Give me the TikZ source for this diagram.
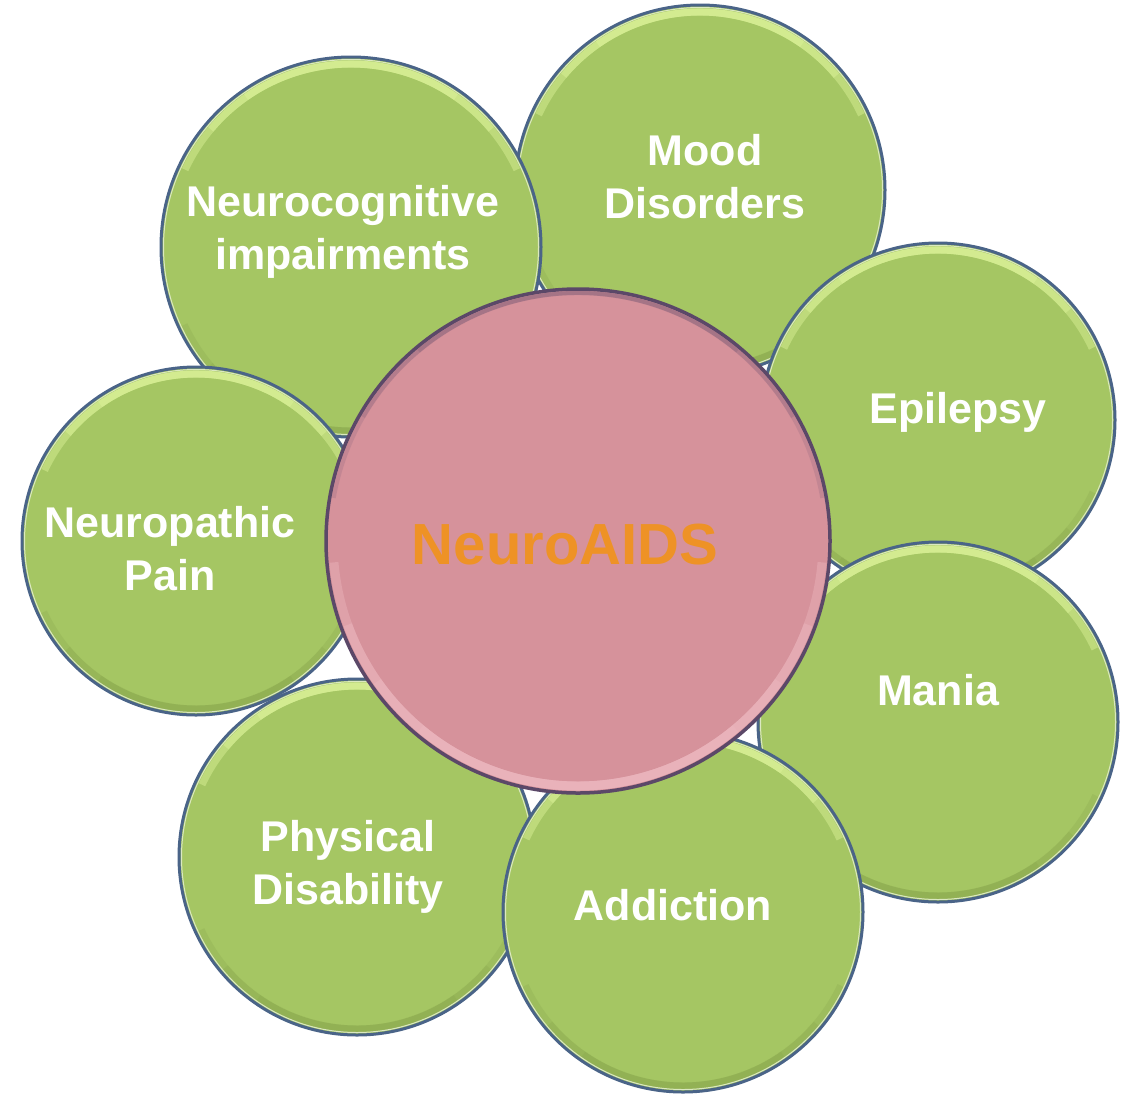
\documentclass[tikz,border=0pt]{standalone}
\usepackage{fontspec}
\setmainfont{Liberation Sans}
\usetikzlibrary{positioning}

\definecolor{petalgreen}{HTML}{A5C663}
\definecolor{petalline}{HTML}{4A6488}
\definecolor{petalhi}{HTML}{DDF49A}
\definecolor{petaldark}{HTML}{86A44C}
\definecolor{corepink}{HTML}{D6929B}
\definecolor{coreline}{HTML}{5B4868}
\definecolor{corehi}{HTML}{EDB8C0}
\definecolor{aidsorange}{HTML}{EE9226}

\begin{document}
\begin{tikzpicture}[x=1pt,y=-1pt,
  petal/.style={circle,draw=petalline,line width=3pt,fill=petalgreen,inner sep=0pt,minimum size=2*#1pt,
    path picture={
      \foreach \a in {205,220,235}
        \draw[petaldark,line width=7pt,opacity=.25] (path picture bounding box.center) ++(\a:#1pt-6pt) arc[start angle=\a,end angle=540-\a,radius=#1pt-6pt];
      \foreach \a in {25,40,55}
        \draw[petalhi,line width=7pt,opacity=.45] (path picture bounding box.center) ++(\a:#1pt-7pt) arc[start angle=\a,end angle=180-\a,radius=#1pt-7pt];
      \draw[white!60!petalgreen,line width=1pt] (path picture bounding box.center) circle[radius=#1pt-2.5pt];}},
  petaltext/.style={text=white,font=\fontsize{43}{53}\selectfont\bfseries,align=center},
  core/.style={circle,draw=coreline,line width=3.5pt,fill=corepink,inner sep=0pt,minimum size=2*#1pt,
    path picture={
      \foreach \a in {185,200,215,230}
        \draw[corehi,line width=9pt,opacity=.4] (path picture bounding box.center) ++(\a:#1pt-7pt) arc[start angle=\a,end angle=540-\a,radius=#1pt-7pt];
      \foreach \a in {10,30,50}
        \draw[coreline,line width=4pt,opacity=.15] (path picture bounding box.center) ++(\a:#1pt-4pt) arc[start angle=\a,end angle=180-\a,radius=#1pt-4pt];}},
  coretext/.style={text=aidsorange,font=\fontsize{58}{66}\selectfont\bfseries}]

\useasboundingbox (0,0) rectangle (1145,1093);

\node[petal=185] (mood) at (700,190) {};
\node[petaltext] (moodtext) at (705,177) {Mood\\Disorders};
\node[petal=190] (neurocog) at (351,247) {};
\node[petaltext] (neurocogtext) at (343,232) {Neurocognitive\\impairments};
\node[petal=177] (epilepsy) at (938,420) {};
\node[petaltext] (epilepsytext) at (958,412) {Epilepsy};
\node[petal=180] (mania) at (938,722) {};
\node[petaltext] (maniatext) at (938,690) {Mania};
\node[petal=174] (neuropath) at (196,541) {};
\node[petaltext] (neuropathtext) at (170,549) {Neuropathic\\Pain};
\node[petal=178] (physical) at (357,857) {};
\node[petaltext] (physicaltext) at (348,867) {Physical\\Disability};
\node[petal=180] (addiction) at (683,912) {};
\node[petaltext] (addictiontext) at (673,905) {Addiction};

\node[core=252] (aids) at (578,541) {};
\node[coretext] (aidstext) at (565,545) {NeuroAIDS};
\end{tikzpicture}
\end{document}
